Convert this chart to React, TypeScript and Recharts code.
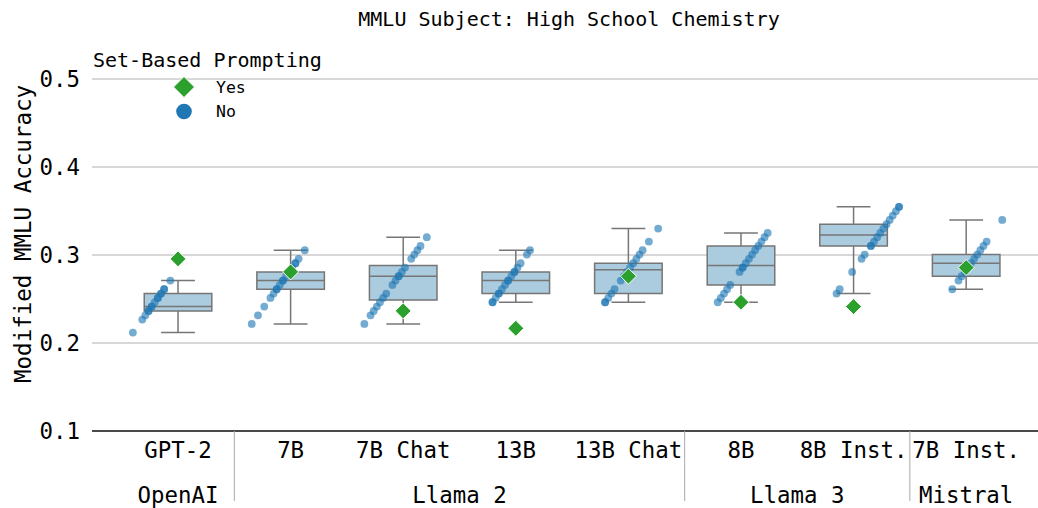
import React from "react";
import {
  ComposedChart,
  Scatter,
  XAxis,
  YAxis,
  CartesianGrid,
  ReferenceArea,
  ReferenceLine,
} from "recharts";

const FONT = "DejaVu Sans Mono";
const BOX_FILL = "#abcbde";
const BOX_EDGE = "#767676";
const BLUE = "#1f77b4";
const GREEN = "#2ca02c";

const categories = ["GPT-2", "7B", "7B Chat", "13B", "13B Chat", "8B", "8B Inst.", "7B Inst."];
const groups = ["OpenAI", "Llama 2", "Llama 3", "Mistral"];
const groupSizes = [1, 4, 2, 1];

// box stats for the "No" runs
const whiskerLow = [0.2118, 0.2217, 0.2217, 0.2463, 0.2463, 0.2463, 0.2562, 0.2611];
const q1 = [0.2365, 0.2611, 0.2488, 0.2562, 0.2562, 0.266, 0.3103, 0.2759];
const median = [0.2414, 0.2709, 0.2759, 0.2709, 0.2833, 0.2882, 0.3227, 0.2906];
const q3 = [0.2562, 0.2808, 0.2882, 0.2808, 0.2906, 0.3103, 0.335, 0.3005];
const whiskerHigh = [0.2709, 0.3054, 0.3202, 0.3054, 0.33, 0.3251, 0.3547, 0.3399];

// set-based prompting result, one per model
const yesValues = [0.2956, 0.2808, 0.2365, 0.2167, 0.2759, 0.2463, 0.2414, 0.2857];

// individual runs without set-based prompting
const noGpt2 = [0.2118, 0.2266, 0.2315, 0.2365, 0.2365, 0.2414, 0.2414, 0.2463, 0.2512, 0.2512, 0.2562, 0.2562, 0.2611, 0.2611, 0.2709];
const noL2_7b = [0.2217, 0.2315, 0.2414, 0.2512, 0.2562, 0.2611, 0.2611, 0.266, 0.2709, 0.2709, 0.2759, 0.2808, 0.2857, 0.2906, 0.2906, 0.2956, 0.3054];
const noL2_7bChat = [0.2217, 0.2315, 0.2365, 0.2414, 0.2463, 0.2512, 0.2562, 0.266, 0.2709, 0.2759, 0.2759, 0.2808, 0.2857, 0.2956, 0.3005, 0.3054, 0.3103, 0.3202];
const noL2_13b = [0.2463, 0.2463, 0.2512, 0.2562, 0.2562, 0.2611, 0.266, 0.2709, 0.2709, 0.2759, 0.2808, 0.2808, 0.2857, 0.2906, 0.3005, 0.3054];
const noL2_13bChat = [0.2463, 0.2463, 0.2512, 0.2562, 0.2611, 0.2709, 0.2759, 0.2808, 0.2857, 0.2906, 0.2956, 0.3005, 0.3054, 0.3153, 0.33];
const noL3_8b = [0.2463, 0.2512, 0.2562, 0.2611, 0.266, 0.2808, 0.2857, 0.2857, 0.2906, 0.2956, 0.3005, 0.3054, 0.3103, 0.3153, 0.3202, 0.3251];
const noL3_8bInst = [0.2562, 0.2611, 0.2808, 0.2956, 0.3005, 0.3103, 0.3103, 0.3153, 0.3202, 0.3251, 0.33, 0.335, 0.3399, 0.3448, 0.3498, 0.3547, 0.3547];
const noMistral = [0.2611, 0.2709, 0.2759, 0.2808, 0.2857, 0.2906, 0.2956, 0.3005, 0.3054, 0.3103, 0.3153, 0.3399];
const noValues = [noGpt2, noL2_7b, noL2_7bChat, noL2_13b, noL2_13bChat, noL3_8b, noL3_8bInst, noMistral];

const yTicks = [0.1, 0.2, 0.3, 0.4, 0.5];

// strip offset: runs are spread along a diagonal by their value
const STRIP_SLOPE = 5.63;
const STRIP_CENTER = 0.283;
const X_DOMAIN: [number, number] = [-0.764, 7.638];

const noPoints = noValues.flatMap((vals, i) =>
  vals.map((v) => ({ x: i + STRIP_SLOPE * (v - STRIP_CENTER), y: v }))
);
const yesPoints = yesValues.map((v, i) => ({ x: i, y: v }));

// group centres and separators from sizes
const groupStarts = groupSizes.map((_, g) => groupSizes.slice(0, g).reduce((a, b) => a + b, 0));
const groupCenters = groupStarts.map((s, g) => s + (groupSizes[g] - 1) / 2);
const separators = groupStarts.slice(1).map((s) => s - 0.5);
const xTicks = Array.from(
  new Set([...categories.map((_, i) => i), ...separators, ...groupCenters])
).sort((a, b) => a - b);

function XTick(props: any) {
  const { x, y, payload } = props;
  const v = payload.value;
  const g = groupCenters.indexOf(v);
  return (
    <g>
      {separators.includes(v) && (
        <line x1={x} x2={x} y1={y} y2={y + 70} stroke="#aaaaaa" strokeWidth={1} />
      )}
      {Number.isInteger(v) && categories[v] && (
        <text x={x} y={y + 27} textAnchor="middle" fontFamily={FONT} fontSize={22.4} fill="#000">
          {categories[v]}
        </text>
      )}
      {g >= 0 && (
        <text x={x} y={y + 72} textAnchor="middle" fontFamily={FONT} fontSize={22.4} fill="#000">
          {groups[g]}
        </text>
      )}
    </g>
  );
}

function RunDot(props: any) {
  const { cx, cy } = props;
  return <circle cx={cx} cy={cy} r={3.9} fill={BLUE} fillOpacity={0.62} />;
}

function Diamond(props: any) {
  const { cx, cy } = props;
  const h = 8;
  return (
    <polygon
      points={`${cx},${cy - h} ${cx + h},${cy} ${cx},${cy + h} ${cx - h},${cy}`}
      fill={GREEN}
      stroke="#fff"
      strokeWidth={1}
    />
  );
}

export default function App() {
  return (
    <div style={{ position: "absolute", left: 0, top: 0, width: 1038, height: 508, background: "#fff" }}>
      <ComposedChart width={1038} height={508} margin={{ top: 79, right: 0, bottom: 0, left: 0 }}>
        <CartesianGrid xAxisId="cat" vertical={false} stroke="#b0b0b0" strokeWidth={1} />
        <XAxis
          xAxisId="cat"
          type="number"
          dataKey="x"
          domain={X_DOMAIN}
          allowDataOverflow
          ticks={xTicks}
          interval={0}
          height={77}
          tickSize={0}
          tickMargin={0}
          tickLine={false}
          axisLine={{ stroke: "#1a1a1a", strokeWidth: 1.5 }}
          tick={<XTick />}
        />
        <YAxis
          type="number"
          dataKey="y"
          domain={[0.1, 0.5]}
          allowDataOverflow
          ticks={yTicks}
          width={92}
          tickSize={0}
          tickMargin={12}
          tickLine={false}
          axisLine={false}
          tickFormatter={(v: number) => v.toFixed(1)}
          tick={{ fontFamily: FONT, fontSize: 22.4, fill: "#000" }}
        />
        {categories.map((_, i) => (
          <ReferenceArea
            key={"box" + i}
            xAxisId="cat"
            x1={i - 0.3}
            x2={i + 0.3}
            y1={q1[i]}
            y2={q3[i]}
            fill={BOX_FILL}
            fillOpacity={1}
            stroke={BOX_EDGE}
            strokeWidth={1.5}
          />
        ))}
        {categories.map((_, i) => (
          <ReferenceLine key={"med" + i} xAxisId="cat" stroke={BOX_EDGE} strokeWidth={1.5}
            segment={[{ x: i - 0.3, y: median[i] }, { x: i + 0.3, y: median[i] }]} />
        ))}
        {categories.map((_, i) => (
          <ReferenceLine key={"wh" + i} xAxisId="cat" stroke={BOX_EDGE} strokeWidth={1.5}
            segment={[{ x: i, y: q3[i] }, { x: i, y: whiskerHigh[i] }]} />
        ))}
        {categories.map((_, i) => (
          <ReferenceLine key={"wl" + i} xAxisId="cat" stroke={BOX_EDGE} strokeWidth={1.5}
            segment={[{ x: i, y: q1[i] }, { x: i, y: whiskerLow[i] }]} />
        ))}
        {categories.map((_, i) => (
          <ReferenceLine key={"ch" + i} xAxisId="cat" stroke={BOX_EDGE} strokeWidth={1.5}
            segment={[{ x: i - 0.15, y: whiskerHigh[i] }, { x: i + 0.15, y: whiskerHigh[i] }]} />
        ))}
        {categories.map((_, i) => (
          <ReferenceLine key={"cl" + i} xAxisId="cat" stroke={BOX_EDGE} strokeWidth={1.5}
            segment={[{ x: i - 0.15, y: whiskerLow[i] }, { x: i + 0.15, y: whiskerLow[i] }]} />
        ))}
        <Scatter xAxisId="cat" data={noPoints} shape={<RunDot />} isAnimationActive={false} />
        <Scatter xAxisId="cat" data={yesPoints} shape={<Diamond />} isAnimationActive={false} />
      </ComposedChart>

      <svg width={1038} height={508} style={{ position: "absolute", left: 0, top: 0, pointerEvents: "none" }}>
        <text x={569} y={26} textAnchor="middle" fontFamily={FONT} fontSize={20} fill="#000">
          MMLU Subject: High School Chemistry
        </text>
        <text x={31} y={234} textAnchor="middle" fontFamily={FONT} fontSize={22.5} fill="#000"
          transform="rotate(-90 31 234)">
          Modified MMLU Accuracy
        </text>
        <text x={93} y={66.5} fontFamily={FONT} fontSize={20} fill="#000">Set-Based Prompting</text>
        <polygon points="184,76.5 194.5,87 184,97.5 173.5,87" fill={GREEN} stroke="#fff" strokeWidth={1} />
        <text x={216} y={92.5} fontFamily={FONT} fontSize={16.5} fill="#000">Yes</text>
        <circle cx={184} cy={111.5} r={7.8} fill={BLUE} />
        <text x={216} y={116.5} fontFamily={FONT} fontSize={16.5} fill="#000">No</text>
      </svg>
    </div>
  );
}
